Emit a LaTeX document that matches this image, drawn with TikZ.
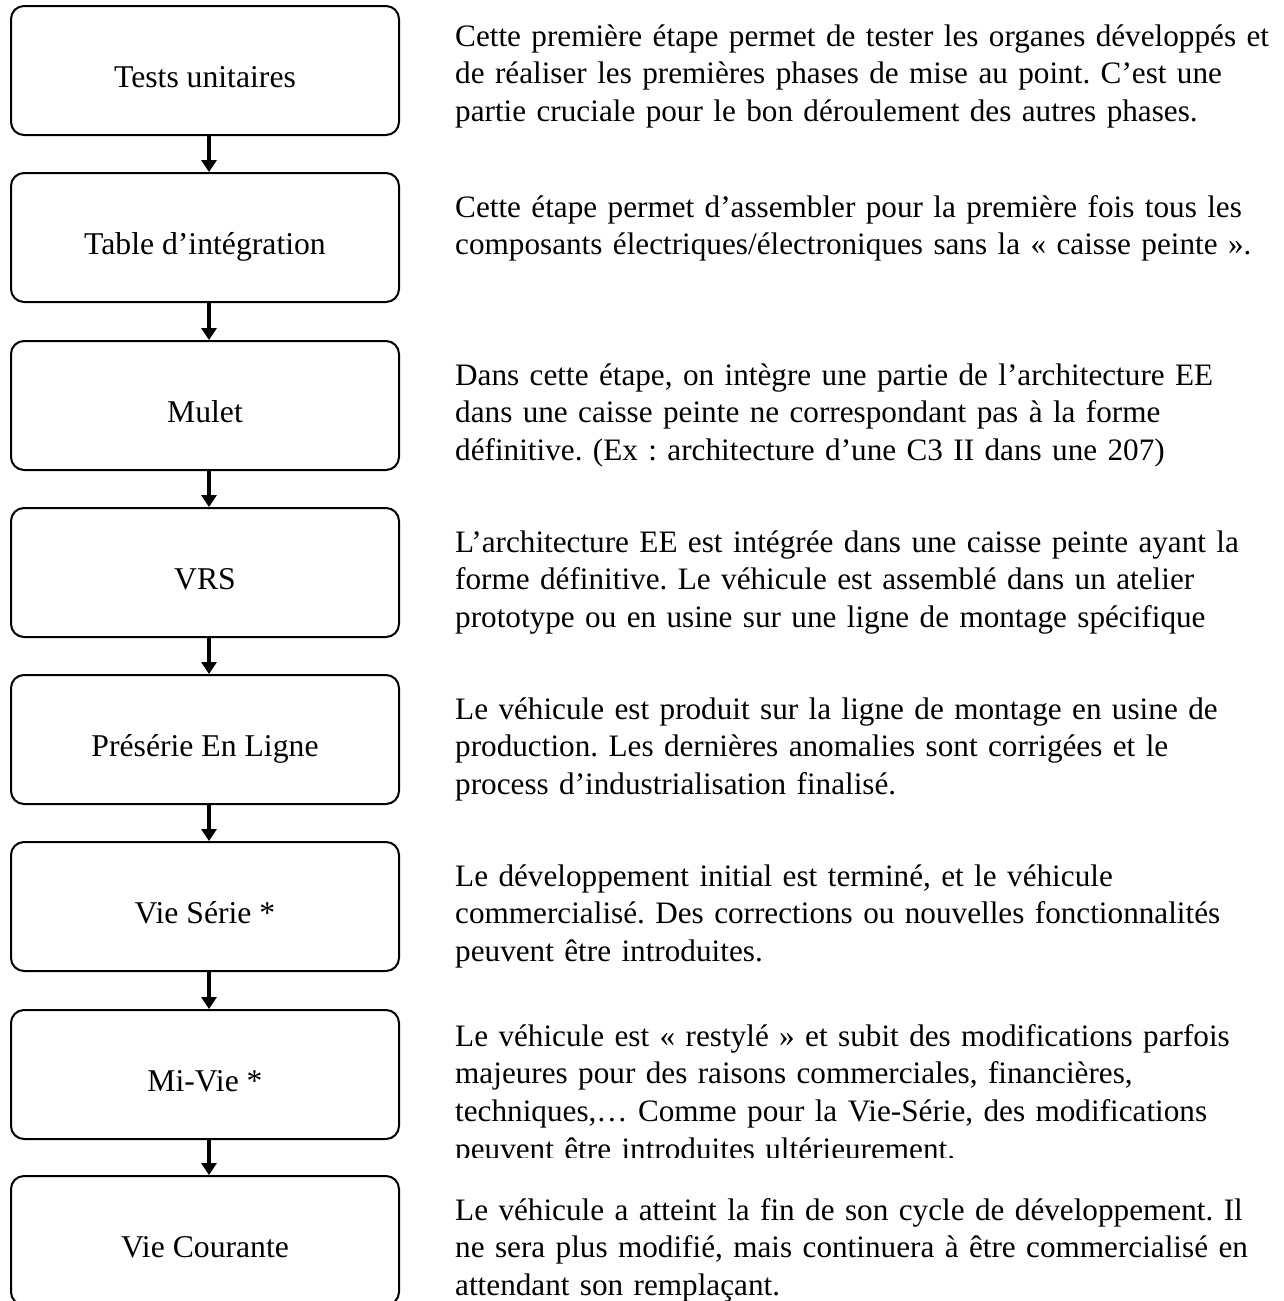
\documentclass[tikz,border=0pt]{standalone}
\usepackage{fontspec}
\setmainfont{Liberation Serif}
\usetikzlibrary{arrows.meta}

\begin{document}
\frenchspacing
\begin{tikzpicture}[x=1pt, y=-1pt,
  etape/.style={draw, line width=2pt, rounded corners=13pt, minimum width=388pt,
    minimum height=129pt, inner sep=0pt, text height=33pt, text depth=0pt,
    font=\fontsize{31.7pt}{38pt}\selectfont},
  fleche/.style={line width=4pt, -{Triangle[width=15pt,length=12pt]}},
  texte/.style={anchor=base west, inner sep=0pt, text width=829pt, align=left,
    font=\fontsize{31.2pt}{37.9pt}\selectfont}]

\useasboundingbox (0,0) rectangle (1284,1301);

% the steps
\node[etape] (tests) at (205, 70.5) {Tests unitaires};
\node[etape] (table) at (205, 237.5) {Table d’intégration};
\node[etape] (mulet) at (205, 405.5) {Mulet};
\node[etape] (vrs) at (205, 572.5) {VRS};
\node[etape] (preserie) at (205, 739.5) {Présérie En Ligne};
\node[etape] (vieserie) at (205, 906.5) {Vie Série *};
\node[etape] (mivie) at (205, 1074.5) {Mi-Vie *};
\node[etape] (courante) at (205, 1240.5) {Vie Courante};

\draw[fleche] ([xshift=4pt]tests.south) -- ([xshift=4pt]table.north);
\draw[fleche] ([xshift=4pt]table.south) -- ([xshift=4pt]mulet.north);
\draw[fleche] ([xshift=4pt]mulet.south) -- ([xshift=4pt]vrs.north);
\draw[fleche] ([xshift=4pt]vrs.south) -- ([xshift=4pt]preserie.north);
\draw[fleche] ([xshift=4pt]preserie.south) -- ([xshift=4pt]vieserie.north);
\draw[fleche] ([xshift=4pt]vieserie.south) -- ([xshift=4pt]mivie.north);
\draw[fleche] ([xshift=4pt]mivie.south) -- ([xshift=4pt]courante.north);

% the descriptions
\node[texte] (txttests) at (455, 46) {Cette première étape permet de tester les organes développés et\\
de réaliser les premières phases de mise au point. C’est une\\
partie cruciale pour le bon déroulement des autres phases.};
\node[texte] (txttable) at (455, 217) {Cette étape permet d’assembler pour la première fois tous les\\
composants électriques/électroniques sans la «~caisse peinte~».};
\node[texte] (txtmulet) at (455, 385) {Dans cette étape, on intègre une partie de l’architecture EE\\
dans une caisse peinte ne correspondant pas à la forme\\
définitive. (Ex~: architecture d’une C3 II dans une 207)};
\node[texte] (txtvrs) at (455, 552) {L’architecture EE est intégrée dans une caisse peinte ayant la\\
forme définitive. Le véhicule est assemblé dans un atelier\\
prototype ou en usine sur une ligne de montage spécifique};
\node[texte] (txtpreserie) at (455, 719) {Le véhicule est produit sur la ligne de montage en usine de\\
production. Les dernières anomalies sont corrigées et le\\
process d’industrialisation finalisé.};
\node[texte] (txtvieserie) at (455, 886) {Le développement initial est terminé, et le véhicule\\
commercialisé. Des corrections ou nouvelles fonctionnalités\\
peuvent être introduites.};
\begin{scope}
\clip (440, 1010) rectangle (1284, 1157);
\node[texte] (txtmivie) at (455, 1046) {Le véhicule est «~restylé~» et subit des modifications parfois\\
majeures pour des raisons commerciales, financières,\\
techniques,… Comme pour la Vie-Série, des modifications\\
peuvent être introduites ultérieurement.};
\end{scope}
\node[texte] (txtcourante) at (455, 1220) {Le véhicule a atteint la fin de son cycle de développement. Il\\
ne sera plus modifié, mais continuera à être commercialisé en\\
attendant son remplaçant.};

\end{tikzpicture}
\end{document}
